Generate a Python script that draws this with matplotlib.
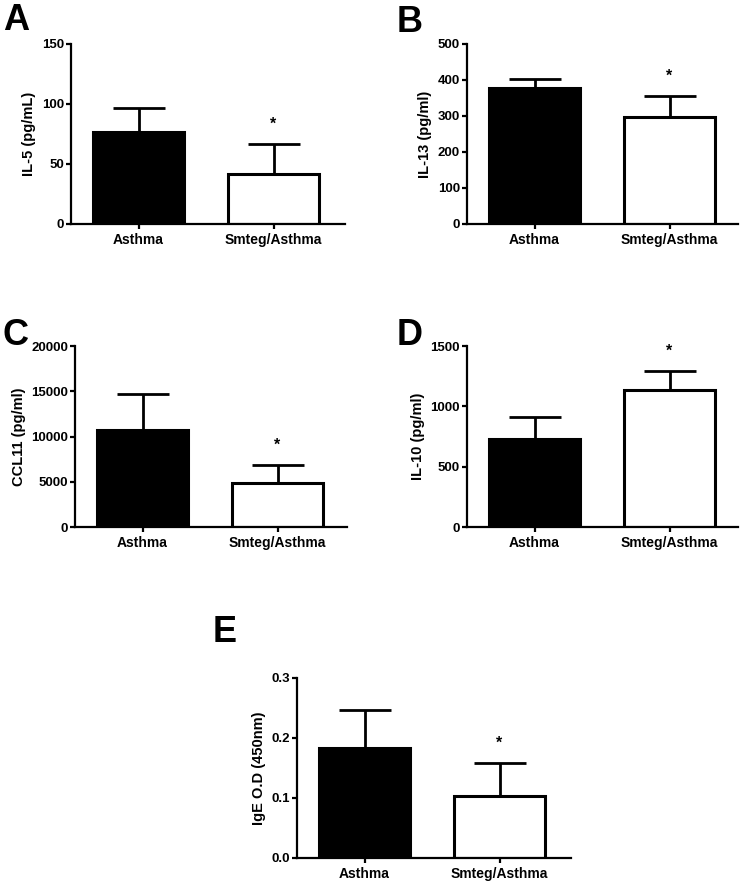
import matplotlib
matplotlib.use("Agg")
import matplotlib.pyplot as plt

plt.rcParams['font.family'] = ['Liberation Sans', 'DejaVu Sans']
plt.rcParams['font.weight'] = 'bold'

groups = ['Asthma', 'Smteg/Asthma']

# panel data: mean and SEM (upper only)
il5_mean = [76.5, 41.5]
il5_err = [20.0, 25.0]
il13_mean = [378, 298]
il13_err = [26, 57]
ccl11_mean = [10700, 4840]
ccl11_err = [3950, 1990]
il10_mean = [730, 1135]
il10_err = [183, 155]
ige_mean = [0.183, 0.104]
ige_err = [0.064, 0.054]

panels = [
    # letter, ylabel, means, errs, yticks, ticklabels, axes px (left, right, top, bottom), letter px (x, baseline)
    ('A', 'IL-5 (pg/mL)', il5_mean, il5_err, [0, 50, 100, 150], ['0', '50', '100', '150'],
     (71, 345, 44, 224), (3, 30)),
    ('B', 'IL-13 (pg/ml)', il13_mean, il13_err, [0, 100, 200, 300, 400, 500],
     ['0', '100', '200', '300', '400', '500'], (467, 738, 44, 224), (397, 32)),
    ('C', 'CCL11 (pg/ml)', ccl11_mean, ccl11_err, [0, 5000, 10000, 15000, 20000],
     ['0', '5000', '10000', '15000', '20000'], (75, 347, 346, 527), (3, 345)),
    ('D', 'IL-10 (pg/ml)', il10_mean, il10_err, [0, 500, 1000, 1500],
     ['0', '500', '1000', '1500'], (467, 738, 346, 527), (397, 345)),
    ('E', 'IgE O.D (450nm)', ige_mean, ige_err, [0.0, 0.1, 0.2, 0.3],
     ['0.0', '0.1', '0.2', '0.3'], (297, 571, 678, 858), (213, 642)),
]

W, H = 742, 882
fig = plt.figure(figsize=(W / 100, H / 100), dpi=100)

for letter, ylab, means, errs, yt, ytl, box, lpos in panels:
    l, r, t, b = box
    ax = fig.add_axes([l / W, 1 - b / H, (r - l) / W, (b - t) / H])
    x = [0, 1]
    # bar centres sit 135 px apart, first one ~70 px right of the y axis
    unit = 135.0
    left = -0.5
    right = left + (r - l) / unit
    ax.bar(x, means, width=0.675, color=['black', 'white'], edgecolor='black',
           linewidth=2.2, zorder=2)
    ax.errorbar(x, means, yerr=[[0, 0], errs], fmt='none', ecolor='black',
                elinewidth=2.0, capsize=19, capthick=2.0, zorder=1)
    ymax = yt[-1]
    ax.text(1, means[1] + errs[1] + 0.11 * ymax, '*', ha='center', va='center',
            fontsize=11.5, fontweight='bold')
    ax.set_xlim(left, right)
    ax.set_ylim(0, ymax)
    ax.set_yticks(yt)
    ax.set_yticklabels(ytl, fontsize=9.5, fontweight='bold')
    ax.set_xticks(x)
    ax.set_xticklabels(groups, fontsize=10, fontweight='bold')
    ax.set_ylabel(ylab, fontsize=10.5, fontweight='bold', labelpad=4)
    ax.spines['top'].set_visible(False)
    ax.spines['right'].set_visible(False)
    ax.spines['left'].set_linewidth(1.6)
    ax.spines['bottom'].set_linewidth(1.6)
    ax.tick_params(axis='both', length=3.5, width=1.6, pad=1.5)
    ax.tick_params(axis='x', pad=3)
    fig.text(lpos[0] / W, 1 - lpos[1] / H, letter, fontsize=26, fontweight='bold',
             ha='left', va='baseline')

fig.savefig('out.png', dpi=100)
